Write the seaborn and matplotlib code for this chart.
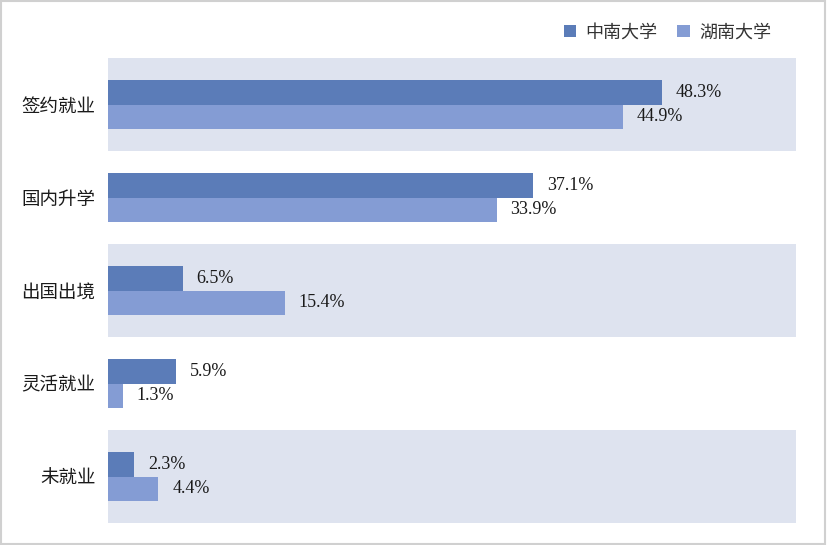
import matplotlib
matplotlib.use("Agg")
import matplotlib.pyplot as plt
import seaborn as sns
import pandas as pd
from matplotlib.patches import Patch
from matplotlib.font_manager import FontProperties

categories = ["签约就业", "国内升学", "出国出境", "灵活就业", "未就业"]
series_names = ["中南大学", "湖南大学"]
csu_values = [48.3, 37.1, 6.5, 5.9, 2.3]
hnu_values = [44.9, 33.9, 15.4, 1.3, 4.4]

colors = ["#5B7CB8", "#849CD4"]
band_color = "#DEE3EF"

sns.set_theme(style="white")
plt.rcParams["font.family"] = ["Noto Sans CJK SC", "DejaVu Sans"]

df = pd.DataFrame({
    "category": categories * 2,
    "school": [series_names[0]] * len(categories) + [series_names[1]] * len(categories),
    "value": csu_values + hnu_values,
})

fig = plt.figure(figsize=(8.27, 5.45), dpi=100)
ax = fig.add_axes([108 / 827, 1 - 523 / 545, (796 - 108) / 827, (523 - 58) / 545])

for i in range(0, len(categories), 2):
    ax.axhspan(i - 0.5, i + 0.5, color=band_color, zorder=0, lw=0)

sns.barplot(data=df, x="value", y="category", hue="school", orient="h",
            palette=colors, width=0.53, saturation=1, ax=ax, legend=False,
            zorder=2, linewidth=0, edgecolor="none")

serif = FontProperties(family="Liberation Serif", size=13)
for cont in ax.containers:
    ax.bar_label(cont, labels=[f"{v:.1f}%" for v in cont.datavalues], padding=10,
                 fontproperties=serif, color="#1a1a1a")

ax.set_xlim(0, 60)
ax.set_ylim(len(categories) - 0.5, -0.5)
ax.set_xlabel("")
ax.set_ylabel("")
ax.set_xticks([])
ax.tick_params(axis="y", length=0, labelsize=13.3, pad=9, colors="#1a1a1a")
for s in ax.spines.values():
    s.set_visible(False)

handles = [Patch(facecolor=c, edgecolor="none") for c in colors]
fig.legend(handles, series_names, loc="center right", bbox_to_anchor=(0.952, 0.941),
           ncol=2, frameon=False, fontsize=13, handlelength=0.7, handleheight=0.7,
           handletextpad=0.5, columnspacing=1.1, labelcolor="#333333")

border = plt.Rectangle((0.001, 0.001), 0.997, 0.997, transform=fig.transFigure,
                       fill=False, edgecolor="#D0D0D0", lw=1.5)
fig.patches.append(border)

fig.savefig("out.png", dpi=100)
